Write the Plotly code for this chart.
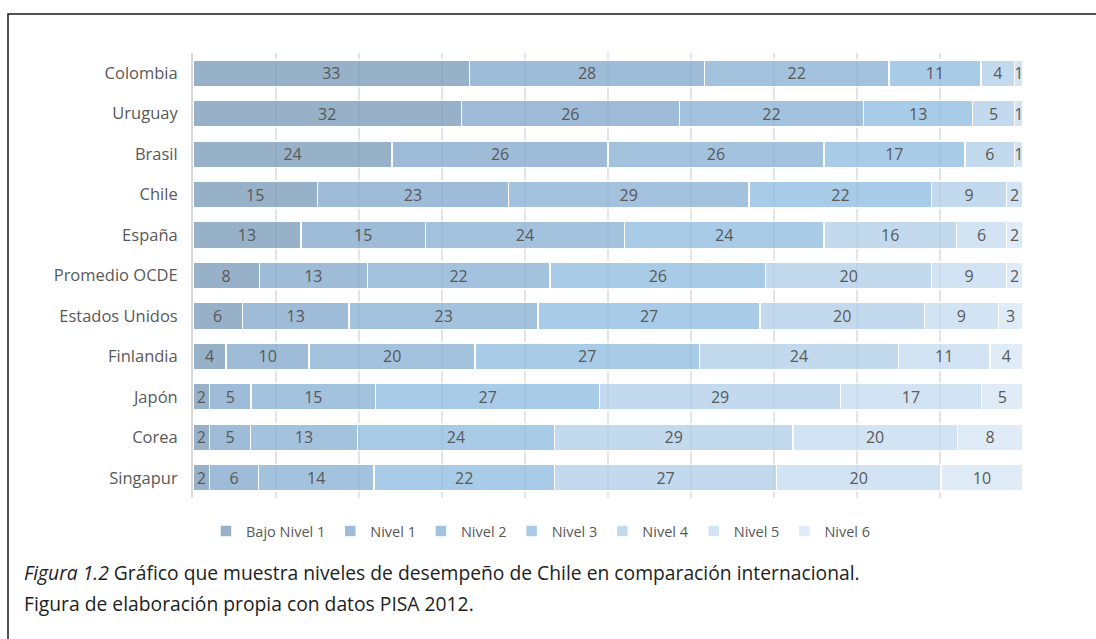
import plotly.graph_objects as go

paises = ["Colombia", "Uruguay", "Brasil", "Chile", "España", "Promedio OCDE",
          "Estados Unidos", "Finlandia", "Japón", "Corea", "Singapur"]
niveles = ["Bajo Nivel 1", "Nivel 1", "Nivel 2", "Nivel 3", "Nivel 4", "Nivel 5", "Nivel 6"]

bajo_nivel_1 = [33, 32, 24, 15, 13, 8, 6, 4, 2, 2, 2]
nivel_1 = [28, 26, 26, 23, 15, 13, 13, 10, 5, 5, 6]
nivel_2 = [22, 22, 26, 29, 24, 22, 23, 20, 15, 13, 14]
nivel_3 = [11, 13, 17, 22, 24, 26, 27, 27, 27, 24, 22]
nivel_4 = [4, 5, 6, 9, 16, 20, 20, 24, 29, 29, 27]
nivel_5 = [1, 1, 1, 2, 6, 9, 9, 11, 17, 20, 20]
nivel_6 = [0, 0, 0, 0, 2, 2, 3, 4, 5, 8, 10]

series = [bajo_nivel_1, nivel_1, nivel_2, nivel_3, nivel_4, nivel_5, nivel_6]
colores = ["rgba(118,153,183,0.76)", "rgba(128,166,202,0.76)", "rgba(133,175,212,0.76)",
           "rgba(140,186,224,0.76)", "rgba(172,203,231,0.72)", "rgba(192,217,240,0.72)",
           "rgba(211,228,244,0.72)"]

fig = go.Figure()
for nombre, vals, col in zip(niveles, series, colores):
    fig.add_trace(go.Bar(
        y=paises, x=vals, name=nombre, orientation="h",
        marker=dict(color=col, line=dict(color="white", width=1.5)),
        text=[str(v) if v > 0 else "" for v in vals],
        textposition="inside", insidetextanchor="middle", constraintext="none",
        textangle=0,
        textfont=dict(family="Open Sans", size=16, color="#595959"),
    ))

L, R, T, B = 193, 73, 53, 141
W, H = 1096, 639
pw, ph = W - L - R, H - T - B

def px(x):
    return (x - L) / pw

def py(y):
    return (H - B - y) / ph

fig.update_layout(
    width=W, height=H, barmode="stack", barnorm="percent", bargap=0.34,
    margin=dict(l=L, r=R, t=T, b=B, pad=0),
    paper_bgcolor="white", plot_bgcolor="white",
    font=dict(family="Open Sans", color="#595959"),
    xaxis=dict(range=[0, 100], dtick=10, showticklabels=False, showgrid=True,
               gridcolor="#e4e4e4", gridwidth=1.5, zeroline=False, fixedrange=True),
    yaxis=dict(categoryorder="array", categoryarray=paises, autorange="reversed",
               showline=True, linecolor="#d9d9d9", linewidth=2, ticks="",
               ticklabelstandoff=10, tickfont=dict(family="Open Sans", size=16.5, color="#595959")),
    legend=dict(orientation="h", x=px(541), xanchor="center", y=py(515), yanchor="top",
                font=dict(family="Open Sans", size=14.5, color="#595959"),
                itemwidth=30, traceorder="normal"),
    showlegend=True,
)

fig.add_annotation(xref="paper", yref="paper", x=px(22), y=py(572), xanchor="left", yanchor="middle",
                   showarrow=False,
                   text="<i>Figura 1.2</i> Gráfico que muestra niveles de desempeño de Chile en comparación internacional.",
                   font=dict(family="Open Sans", size=19.3, color="#222222"))
fig.add_annotation(xref="paper", yref="paper", x=px(22), y=py(603), xanchor="left", yanchor="middle",
                   showarrow=False,
                   text="Figura de elaboración propia con datos PISA 2012.",
                   font=dict(family="Open Sans", size=19.3, color="#222222"))

fig.add_shape(type="rect", xref="paper", yref="paper", x0=px(8), y0=py(660), x1=px(1120), y1=py(14),
              line=dict(color="#1a1a1a", width=1.5), fillcolor="rgba(0,0,0,0)", layer="above")

fig.write_html("out.html")
